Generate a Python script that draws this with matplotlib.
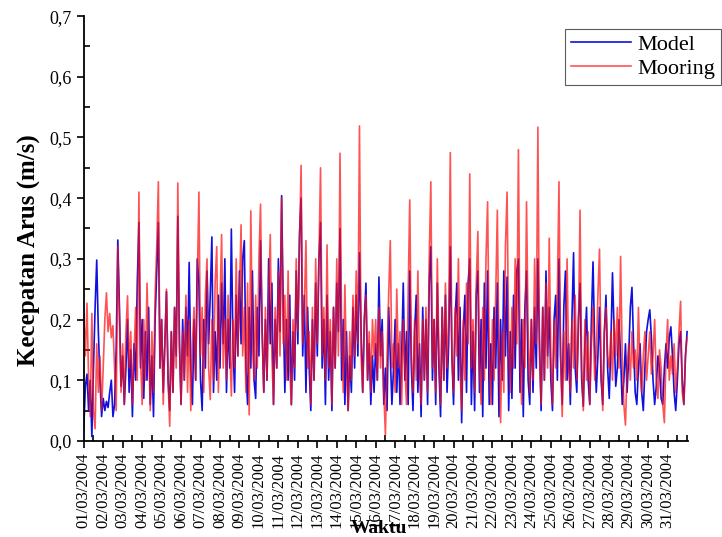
import numpy as np
import matplotlib.pyplot as plt
from matplotlib.ticker import MultipleLocator, FuncFormatter

plt.rcParams['font.family'] = ['Liberation Serif', 'DejaVu Serif']

# kecepatan arus tiap 2 jam (12 nilai per hari), 01/03/2004 - 31/03/2004
model = [
    [0.02, 0.09, 0.11, 0.05, 0.10, 0.007, 0.12, 0.22, 0.298, 0.18, 0.10, 0.04],
    [0.07, 0.05, 0.065, 0.055, 0.08, 0.10, 0.04, 0.06, 0.15, 0.331, 0.22, 0.09],
    [0.14, 0.06, 0.12, 0.20, 0.08, 0.15, 0.04, 0.16, 0.10, 0.26, 0.36, 0.12],
    [0.20, 0.07, 0.18, 0.10, 0.22, 0.06, 0.14, 0.04, 0.20, 0.28, 0.36, 0.12],
    [0.20, 0.08, 0.16, 0.246, 0.10, 0.05, 0.18, 0.08, 0.22, 0.14, 0.37, 0.16],
    [0.06, 0.20, 0.10, 0.22, 0.14, 0.294, 0.12, 0.06, 0.20, 0.10, 0.30, 0.26],
    [0.10, 0.05, 0.20, 0.12, 0.28, 0.16, 0.24, 0.336, 0.08, 0.18, 0.10, 0.24],
    [0.12, 0.26, 0.16, 0.30, 0.08, 0.20, 0.12, 0.349, 0.16, 0.08, 0.24, 0.14],
    [0.28, 0.16, 0.30, 0.33, 0.12, 0.06, 0.22, 0.12, 0.28, 0.10, 0.07, 0.22],
    [0.14, 0.33, 0.18, 0.08, 0.20, 0.10, 0.30, 0.16, 0.26, 0.06, 0.20, 0.12],
    [0.30, 0.18, 0.404, 0.22, 0.08, 0.20, 0.10, 0.24, 0.06, 0.18, 0.10, 0.28],
    [0.16, 0.34, 0.40, 0.14, 0.24, 0.08, 0.22, 0.12, 0.05, 0.20, 0.10, 0.26],
    [0.14, 0.30, 0.36, 0.12, 0.20, 0.06, 0.24, 0.10, 0.18, 0.05, 0.22, 0.12],
    [0.26, 0.18, 0.35, 0.10, 0.20, 0.06, 0.18, 0.05, 0.14, 0.08, 0.22, 0.12],
    [0.24, 0.14, 0.31, 0.18, 0.08, 0.20, 0.26, 0.10, 0.16, 0.06, 0.14, 0.08],
    [0.16, 0.10, 0.27, 0.14, 0.20, 0.06, 0.12, 0.05, 0.22, 0.14, 0.06, 0.12],
    [0.20, 0.08, 0.16, 0.06, 0.14, 0.26, 0.10, 0.18, 0.06, 0.28, 0.12, 0.05],
    [0.18, 0.24, 0.08, 0.16, 0.04, 0.22, 0.10, 0.20, 0.06, 0.26, 0.32, 0.10],
    [0.20, 0.06, 0.26, 0.12, 0.04, 0.22, 0.10, 0.24, 0.08, 0.16, 0.32, 0.14],
    [0.06, 0.20, 0.26, 0.10, 0.22, 0.03, 0.18, 0.24, 0.08, 0.26, 0.30, 0.06],
    [0.18, 0.05, 0.24, 0.28, 0.08, 0.20, 0.04, 0.26, 0.12, 0.28, 0.06, 0.16],
    [0.06, 0.22, 0.12, 0.26, 0.04, 0.20, 0.10, 0.28, 0.14, 0.27, 0.05, 0.18],
    [0.07, 0.24, 0.12, 0.28, 0.30, 0.08, 0.20, 0.04, 0.22, 0.28, 0.10, 0.06],
    [0.20, 0.08, 0.22, 0.12, 0.30, 0.16, 0.05, 0.22, 0.10, 0.28, 0.14, 0.22],
    [0.10, 0.05, 0.20, 0.24, 0.10, 0.30, 0.14, 0.06, 0.22, 0.28, 0.10, 0.16],
    [0.06, 0.20, 0.31, 0.12, 0.08, 0.20, 0.26, 0.10, 0.057, 0.16, 0.22, 0.10],
    [0.06, 0.20, 0.295, 0.16, 0.08, 0.14, 0.22, 0.10, 0.06, 0.18, 0.24, 0.12],
    [0.07, 0.16, 0.277, 0.18, 0.09, 0.12, 0.20, 0.14, 0.06, 0.10, 0.16, 0.08],
    [0.14, 0.22, 0.253, 0.16, 0.08, 0.06, 0.12, 0.16, 0.08, 0.05, 0.12, 0.18],
    [0.20, 0.216, 0.17, 0.10, 0.06, 0.09, 0.14, 0.12, 0.07, 0.06, 0.12, 0.16],
    [0.12, 0.17, 0.188, 0.14, 0.08, 0.05, 0.10, 0.16, 0.18, 0.10, 0.06, 0.14],
]
mooring = [
    [0.21, 0.14, 0.227, 0.10, 0.04, 0.21, 0.05, 0.02, 0.16, 0.08, 0.14, 0.05],
    [0.12, 0.20, 0.244, 0.18, 0.21, 0.17, 0.19, 0.12, 0.05, 0.32, 0.20, 0.08],
    [0.16, 0.06, 0.18, 0.239, 0.12, 0.18, 0.06, 0.14, 0.22, 0.10, 0.41, 0.14],
    [0.06, 0.20, 0.10, 0.26, 0.16, 0.05, 0.18, 0.08, 0.24, 0.32, 0.427, 0.12],
    [0.20, 0.06, 0.16, 0.25, 0.10, 0.024, 0.18, 0.08, 0.22, 0.12, 0.425, 0.16],
    [0.06, 0.18, 0.10, 0.24, 0.08, 0.20, 0.05, 0.16, 0.22, 0.10, 0.26, 0.41],
    [0.14, 0.22, 0.08, 0.24, 0.30, 0.12, 0.068, 0.20, 0.10, 0.26, 0.32, 0.08],
    [0.22, 0.34, 0.12, 0.20, 0.10, 0.24, 0.16, 0.074, 0.20, 0.12, 0.30, 0.14],
    [0.24, 0.356, 0.14, 0.22, 0.08, 0.26, 0.043, 0.379, 0.16, 0.10, 0.24, 0.12],
    [0.30, 0.39, 0.18, 0.08, 0.22, 0.10, 0.24, 0.34, 0.14, 0.06, 0.22, 0.12],
    [0.28, 0.14, 0.40, 0.16, 0.24, 0.10, 0.28, 0.12, 0.059, 0.20, 0.12, 0.30],
    [0.18, 0.32, 0.454, 0.16, 0.22, 0.33, 0.12, 0.18, 0.06, 0.22, 0.10, 0.30],
    [0.16, 0.30, 0.45, 0.14, 0.22, 0.10, 0.323, 0.12, 0.20, 0.06, 0.22, 0.12],
    [0.30, 0.14, 0.474, 0.18, 0.08, 0.257, 0.12, 0.05, 0.18, 0.10, 0.24, 0.14],
    [0.28, 0.16, 0.519, 0.14, 0.08, 0.20, 0.24, 0.10, 0.18, 0.08, 0.20, 0.14],
    [0.20, 0.10, 0.22, 0.12, 0.18, 0.08, 0.01, 0.14, 0.24, 0.33, 0.12, 0.16],
    [0.08, 0.25, 0.12, 0.18, 0.06, 0.20, 0.12, 0.06, 0.24, 0.397, 0.14, 0.08],
    [0.20, 0.10, 0.28, 0.12, 0.06, 0.20, 0.10, 0.22, 0.08, 0.30, 0.427, 0.12],
    [0.20, 0.08, 0.30, 0.14, 0.06, 0.22, 0.10, 0.26, 0.12, 0.20, 0.475, 0.14],
    [0.08, 0.22, 0.14, 0.30, 0.12, 0.05, 0.20, 0.10, 0.26, 0.16, 0.44, 0.12],
    [0.20, 0.08, 0.26, 0.345, 0.12, 0.06, 0.22, 0.10, 0.30, 0.394, 0.14, 0.06],
    [0.20, 0.10, 0.24, 0.38, 0.14, 0.03, 0.18, 0.08, 0.32, 0.41, 0.16, 0.08],
    [0.22, 0.12, 0.30, 0.16, 0.48, 0.14, 0.06, 0.20, 0.12, 0.394, 0.18, 0.08],
    [0.20, 0.10, 0.30, 0.16, 0.517, 0.14, 0.06, 0.22, 0.10, 0.26, 0.12, 0.334],
    [0.14, 0.06, 0.20, 0.12, 0.24, 0.427, 0.14, 0.04, 0.18, 0.10, 0.30, 0.12],
    [0.08, 0.20, 0.12, 0.24, 0.10, 0.18, 0.38, 0.12, 0.05, 0.20, 0.10, 0.18],
    [0.06, 0.16, 0.22, 0.10, 0.14, 0.24, 0.316, 0.12, 0.05, 0.18, 0.22, 0.14],
    [0.12, 0.18, 0.10, 0.20, 0.14, 0.22, 0.12, 0.304, 0.14, 0.06, 0.026, 0.12],
    [0.16, 0.10, 0.18, 0.12, 0.15, 0.10, 0.22, 0.12, 0.08, 0.14, 0.18, 0.10],
    [0.14, 0.18, 0.11, 0.14, 0.20, 0.10, 0.07, 0.15, 0.12, 0.06, 0.03, 0.14],
    [0.20, 0.10, 0.14, 0.11, 0.16, 0.08, 0.12, 0.18, 0.23, 0.08, 0.06, 0.14],
]
model_end = 0.18
mooring_end = 0.17

tanggal = [f'{d:02d}/03/2004' for d in range(1, 32)]

y_model = np.append(np.ravel(model), model_end)
y_mooring = np.append(np.ravel(mooring), mooring_end)
t = np.arange(len(y_model)) / 12.0  # hari sejak 01/03/2004

fig = plt.figure(figsize=(7.22, 5.37), dpi=100)
ax = fig.add_axes([0.116, 0.179, 0.837, 0.791])

ax.plot(t, y_model, color='#1010e0', linewidth=1.2, label='Model')
ax.plot(t, y_mooring, color='#ff1010', linewidth=1.2, alpha=0.72, label='Mooring')

ax.set_xlim(0, 31.05)
ax.set_ylim(0, 0.7)
ax.set_xticks(np.arange(31))
ax.set_xticklabels(tanggal, rotation=90, fontsize=12)
ax.xaxis.set_minor_locator(MultipleLocator(0.5))
ax.yaxis.set_major_locator(MultipleLocator(0.1))
ax.yaxis.set_minor_locator(MultipleLocator(0.05))
ax.yaxis.set_major_formatter(FuncFormatter(lambda v, p: f'{v:.1f}'.replace('.', ',')))
ax.tick_params(axis='y', labelsize=13)
ax.tick_params(which='major', direction='out', length=5, width=1.2)
ax.tick_params(which='minor', direction='in', length=4, width=1.2)

for side in ['top', 'right']:
    ax.spines[side].set_visible(False)
for side in ['left', 'bottom']:
    ax.spines[side].set_linewidth(1.3)

ax.set_ylabel('Kecepatan Arus (m/s)', fontsize=18, fontweight='bold')
ax.yaxis.set_label_coords(-0.071, 0.45)
fig.text(0.525, 0.0, 'Waktu', fontsize=14, fontweight='bold', ha='center', va='bottom')

leg = ax.legend(loc='upper left', bbox_to_anchor=(565 / 722, 1 - 29 / 537),
                bbox_transform=fig.transFigure, fontsize=16, frameon=True,
                fancybox=False, handlelength=2.7, borderpad=0.25, labelspacing=0.15,
                handletextpad=0.3, borderaxespad=0)
leg.get_frame().set_edgecolor('#333333')
leg.get_frame().set_linewidth(0.8)

fig.savefig('out.png', dpi=100)
